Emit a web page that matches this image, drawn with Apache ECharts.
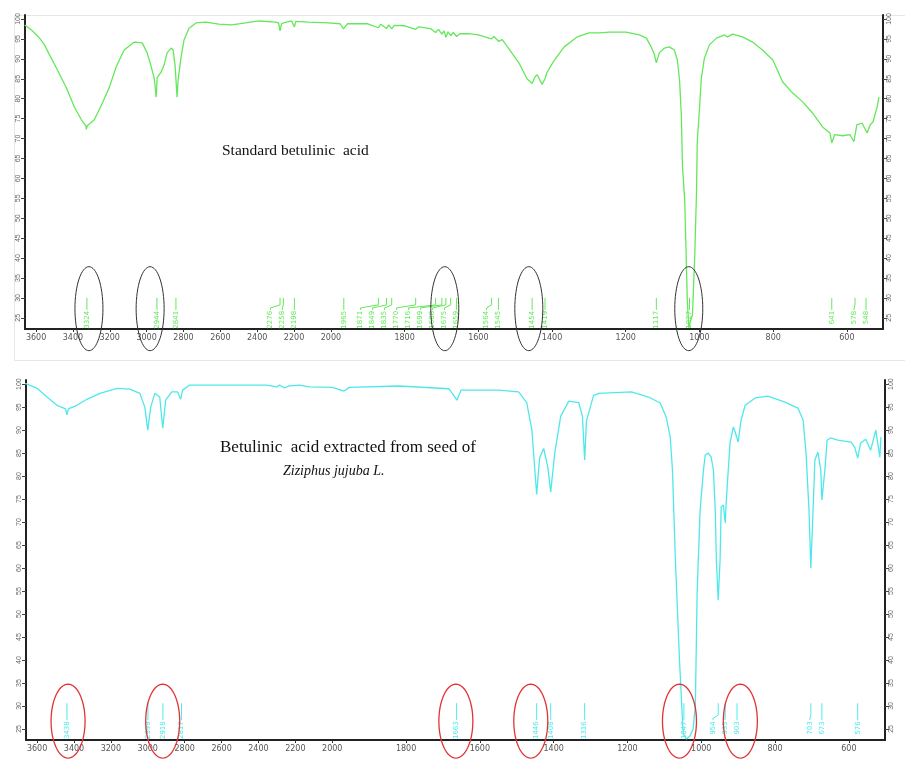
<!DOCTYPE html>
<html>
<head>
<meta charset="utf-8">
<script src="https://cdn.jsdelivr.net/npm/echarts@6/dist/echarts.min.js"></script>
<style>
  html, body { margin: 0; padding: 0; background: #fff; }
  #chart { width: 905px; height: 760px; }
</style>
</head>
<body>
<div id="chart"></div>
<script>
// IR spectra, wavenumber (cm-1) vs transmittance (%T)
var stdWave = [3662,3646,3619,3581,3554,3527,3484,3435,3392,3354,3330,3327,3322,3284,3240,3202,3165,3122,3067,3024,
  2997,2975,2959,2948,2943,2921,2905,2889,2867,2856,2845,2835,2829,2813,2797,2770,2732,2678,2608,2538,
  2462,2392,2300,2284,2276,2268,2257,2213,2198,2190,2122,2014,1975,1966,1955,1900,1871,1865,1849,1843,
  1835,1828,1800,1770,1762,1730,1716,1708,1699,1693,1688,1682,1675,1668,1659,1650,1626,1600,1564,1558,
  1545,1535,1517,1490,1468,1454,1446,1440,1427,1419,1414,1395,1367,1332,1300,1272,1245,1199,1163,1144,
  1131,1122,1117,1109,1095,1082,1068,1060,1054,1049,1046,1040,1033,1029,1025,1019,1013,1008,1006,1000,
  995,987,973,954,932,924,910,883,856,829,801,774,747,720,693,666,646,641,633,611,
  592,581,573,559,545,537,529,518,513];
var stdTrans = [98.5,98.0,97.0,95.2,93.5,91.0,87.2,82.7,77.9,74.7,73.2,72.3,73.2,74.7,78.9,82.9,88.0,92.2,94.2,94.0,
  91.5,88.0,85.2,80.4,85.2,86.7,88.5,91.5,92.7,92.2,88.0,80.4,84.7,90.5,94.7,97.7,99.0,99.2,98.7,98.5,
  99.0,99.5,99.2,99.0,97.0,98.8,99.0,99.5,98.0,99.4,99.2,99.0,98.8,97.5,98.8,98.8,97.8,98.7,97.6,98.5,
  97.5,98.4,98.3,97.4,98.0,97.6,96.6,97.4,96.2,97.0,95.4,96.8,95.8,96.6,95.6,96.3,96.3,96.0,95.0,95.6,
  94.4,94.8,92.5,89.0,85.0,83.8,85.5,86.0,83.6,85.0,86.5,89.5,93.0,95.5,96.5,96.5,96.7,96.7,96.0,95.2,
  93.0,91.0,89.0,91.5,92.7,93.0,92.2,89.7,84.7,75.4,62.9,54.6,29.5,22.5,24.0,25.7,40.0,56.6,69.0,77.4,
  85.0,90.0,93.5,95.2,96.0,95.5,96.2,95.5,94.2,92.2,89.7,84.2,81.4,79.2,76.4,72.9,71.4,68.9,71.0,70.7,
  71.0,69.2,73.4,73.9,71.4,73.4,74.2,77.9,80.4];

var extWave = [3665,3654,3600,3546,3492,3445,3438,3430,3384,3330,3259,3167,3097,3043,3016,3000,2984,2962,2935,2919,
  2903,2870,2838,2822,2811,2773,2541,2357,2300,2286,2260,2232,2178,2124,2000,1968,1954,1819,1684,1662,
  1651,1549,1495,1473,1459,1446,1438,1427,1416,1408,1397,1381,1359,1332,1322,1316,1311,1292,1278,1189,
  1143,1111,1095,1084,1078,1073,1070,1059,1049,1040,1030,1022,1016,1011,1008,1003,994,989,981,973,
  967,962,959,954,949,946,940,935,932,922,913,908,900,892,881,854,819,773,738,724,
  716,708,703,697,692,684,676,673,665,659,649,630,594,584,576,568,554,541,527,516,513];
var extTrans = [100.2,100.0,99.1,97.2,95.4,94.6,93.3,94.6,95.4,96.7,98.0,99.1,98.9,98.0,95.0,90.0,95.0,98.0,97.2,90.4,
  96.5,98.3,98.3,96.7,98.7,99.8,99.8,99.8,99.4,99.8,99.2,99.6,99.8,99.4,99.3,98.5,99.3,99.6,99.0,96.5,
  98.7,98.7,98.3,96.0,90.0,76.0,84.0,86.0,82.0,76.5,85.0,93.0,96.3,96.0,93.0,83.5,92.0,97.5,98.0,98.3,
  97.2,95.9,92.8,88.5,81.3,68.9,61.7,40.0,24.0,22.8,23.5,25.0,30.0,55.0,61.7,72.6,81.3,84.6,85.0,84.1,
  81.3,72.6,61.7,53.0,61.7,73.3,73.7,69.8,74.8,87.2,90.7,89.6,87.4,92.2,95.4,97.0,97.4,96.1,94.8,92.2,
  85.0,72.6,60.0,72.6,83.5,85.2,81.3,74.8,81.3,87.8,88.3,87.8,87.4,86.3,83.9,87.2,88.0,85.6,90.0,84.1,88.5];

// peak tables printed under each spectrum
var stdPeaks = [3324,2944,2841,2276,2258,2198,1965,1871,1849,1835,1770,1716,1699,1688,1675,1659,1564,1545,1454,1419,1117,1027,641,578,548];
var extPeaks = [3438,2999,2918,2817,1663,1446,1408,1316,1047,954,935,903,703,673,576];
// peaks ringed by hand
var stdRinged = [3313,2981,1691,1463,1029];
var extRinged = [3432,2919,1665,1462,1059,894];

var xTicks = [3600,3400,3200,3000,2800,2600,2400,2200,2000,1800,1600,1400,1200,1000,800,600];
var yTicks = [100,95,90,85,80,75,70,65,60,55,50,45,40,35,30,25];

// the instrument draws 4000-2000 at half the scale of 2000-400
function toAxis(w) { return w > 2000 ? 2000 + (w - 2000) / 2 : w; }
function toWave(v) { return v > 2000 ? 2000 + (v - 2000) * 2 : v; }

function pairs(ws, ts) {
  return ws.map(function (w, i) { return [toAxis(w), ts[i]]; });
}

function xAx(grid) {
  return {
    type: 'value', gridIndex: grid, inverse: true, min: 502, max: 2830,
    axisLine: { show: true, onZero: false, lineStyle: { color: '#222', width: 2 } },
    axisTick: { show: true, customValues: xTicks.map(toAxis), length: 3, lineStyle: { color: '#333' } },
    axisLabel: {
      customValues: xTicks.map(toAxis), fontSize: 8, color: '#555', margin: 5,
      fontFamily: 'DejaVu Sans',
      formatter: function (v) { return String(Math.round(toWave(v))); }
    },
    splitLine: { show: false }
  };
}

function yAx(grid, pos, min, max) {
  return {
    type: 'value', gridIndex: grid, position: pos, min: min, max: max,
    axisLine: { show: true, lineStyle: { color: '#222', width: 2 } },
    axisTick: { show: true, customValues: yTicks, length: 4, lineStyle: { color: '#444' } },
    axisLabel: { customValues: yTicks, rotate: 90, fontSize: 7, color: '#666', margin: 3 },
    splitLine: { show: false }
  };
}

// peak labels: short stem, leader to a spread-out position, rotated number
function peakRender(peaks, color, topT, len) {
  return function (params, api) {
    var xs = peaks.map(function (p) { return api.coord([toAxis(p), topT])[0]; });
    var lx = xs.slice(), gap = 12, n = xs.length;
    for (var i = n - 2; i >= 0; i--) lx[i] = Math.min(lx[i], lx[i + 1] - gap);
    for (var j = 1; j < n; j++) lx[j] = Math.max(lx[j], lx[j - 1] + gap);
    var k = params.dataIndex;
    var y0 = api.coord([toAxis(peaks[k]), topT])[1];
    return {
      type: 'group',
      children: [
        {
          type: 'polyline',
          shape: { points: [[xs[k], y0], [xs[k], y0 + len - 5], [lx[k], y0 + len - 2], [lx[k], y0 + len]] },
          style: { stroke: color, lineWidth: 1, fill: null }
        },
        {
          type: 'text', x: lx[k], y: y0 + len + 1, rotation: Math.PI / 2,
          style: { text: String(peaks[k]), fill: color, font: '7px "DejaVu Sans"', align: 'right', verticalAlign: 'middle' }
        }
      ]
    };
  };
}

function ringRender(color, rx, ry, width) {
  return function (params, api) {
    var c = api.coord([api.value(0), api.value(1)]);
    var pts = [];
    for (var a = 0; a <= 64; a++) {
      var t = a / 64 * Math.PI * 2;
      pts.push([c[0] + rx * Math.cos(t), c[1] + ry * Math.sin(t)]);
    }
    return { type: 'polygon', shape: { points: pts }, style: { fill: null, stroke: color, lineWidth: width } };
  };
}

var green = '#63e85a';
var cyan = '#4fe8ea';

var chart = echarts.init(document.getElementById('chart'), null, { renderer: 'canvas' });
chart.setOption({
  animation: false,
  backgroundColor: '#fff',
  grid: [
    { left: 25, right: 22, top: 15, height: 314 },
    { left: 26, right: 20, top: 380, height: 360 }
  ],
  xAxis: [xAx(0), xAx(1)],
  yAxis: [yAx(0, 'left', 22.2, 101), yAx(0, 'right', 22.2, 101), yAx(1, 'left', 22.6, 100.9), yAx(1, 'right', 22.6, 100.9)],
  graphic: [
    // faint frame of the pasted upper scan
    { type: 'rect', left: 12, top: 13, z: -1, shape: { width: 891, height: 345 }, style: { fill: null, stroke: '#e6e6e6', lineWidth: 1 } },
    { type: 'text', left: 222, top: 143, style: { text: 'Standard betulinic  acid', font: '15.5px "Liberation Serif"', fill: '#111' } },
    { type: 'text', left: 220, top: 439, style: { text: 'Betulinic  acid extracted from seed of', font: '17px "Liberation Serif"', fill: '#111' } },
    { type: 'text', left: 283, top: 464, style: { text: 'Ziziphus jujuba L.', font: 'italic 14px "Liberation Serif"', fill: '#111' } }
  ],
  series: [
    {
      type: 'line', xAxisIndex: 0, yAxisIndex: 0, data: pairs(stdWave, stdTrans),
      showSymbol: false, lineStyle: { color: green, width: 1.3 }, clip: true
    },
    {
      type: 'line', xAxisIndex: 1, yAxisIndex: 2, data: pairs(extWave, extTrans),
      showSymbol: false, lineStyle: { color: cyan, width: 1.3 }, clip: true
    },
    {
      type: 'custom', xAxisIndex: 0, yAxisIndex: 0, clip: false,
      data: stdPeaks.map(function (p) { return [toAxis(p), 30]; }),
      renderItem: peakRender(stdPeaks, green, 30, 12)
    },
    {
      type: 'custom', xAxisIndex: 1, yAxisIndex: 2, clip: false,
      data: extPeaks.map(function (p) { return [toAxis(p), 30.6]; }),
      renderItem: peakRender(extPeaks, cyan, 30.6, 17)
    },
    {
      type: 'custom', xAxisIndex: 0, yAxisIndex: 0, clip: false, z: 5,
      data: stdRinged.map(function (p) { return [toAxis(p), 27.3]; }),
      renderItem: ringRender('#333', 14, 42, 1)
    },
    {
      type: 'custom', xAxisIndex: 1, yAxisIndex: 2, clip: false, z: 5,
      data: extRinged.map(function (p) { return [toAxis(p), 26.7]; }),
      renderItem: ringRender('#e03434', 17, 37, 1.3)
    }
  ]
});
</script>
</body>
</html>
